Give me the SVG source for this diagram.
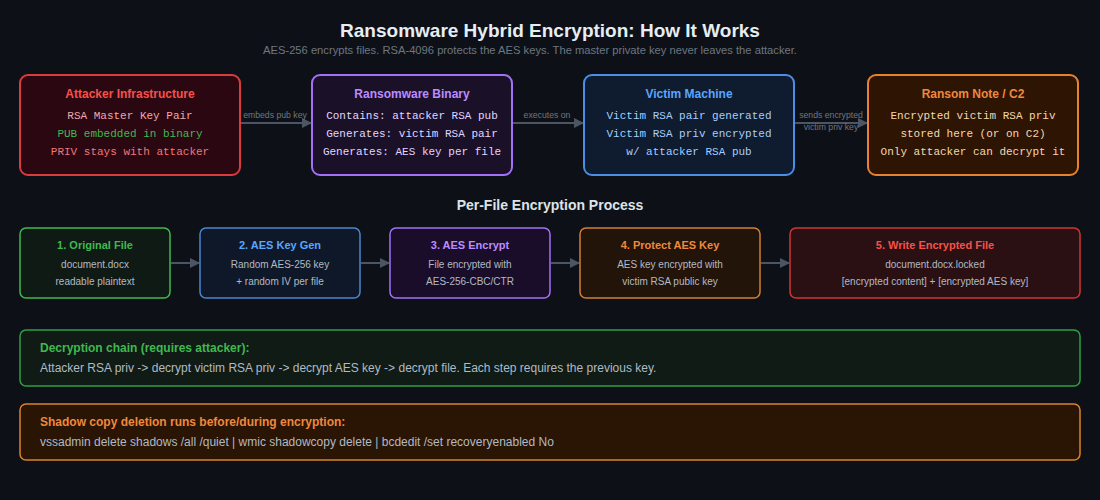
<svg xmlns="http://www.w3.org/2000/svg" width="1100" height="500" viewBox="0 0 1100 500">
<defs>
<marker id="ah" viewBox="0 0 10 10" refX="9" refY="5" markerWidth="10" markerHeight="10" markerUnits="userSpaceOnUse" orient="auto">
<path d="M0,0 L10,5 L0,10 z" fill="#4b5563"/>
</marker>
</defs>
<style>
text{font-family:"Liberation Sans",Arial,sans-serif;text-anchor:middle}
.mono{font-family:"Courier New","Liberation Mono",monospace;font-size:11px}
.t1{font-size:12px;font-weight:bold}
.t2{font-size:11px;font-weight:bold}
.b2{font-size:10px;fill:#b1bac4}
.lbl{font-size:8.7px;fill:#6e7681}
.conn{stroke:#4b5563;stroke-width:2;fill:none;marker-end:url(#ah)}
.left{text-anchor:start}
</style>
<rect width="1100" height="500" fill="#0d1117"/>
<text x="550" y="37" font-size="19" font-weight="bold" fill="#e6edf3">Ransomware Hybrid Encryption: How It Works</text>
<text x="530" y="54" font-size="11.2" fill="#6e7681">AES-256 encrypts files. RSA-4096 protects the AES keys. The master private key never leaves the attacker.</text>

<g id="connectors">
<line class="conn" x1="241" y1="123" x2="311" y2="123"/>
<text class="lbl" x="275" y="118">embeds pub key</text>
<line class="conn" x1="513" y1="123" x2="583" y2="123"/>
<text class="lbl" x="547" y="118">executes on</text>
<line class="conn" x1="795" y1="123" x2="867" y2="123"/>
<text class="lbl" x="831" y="118">sends encrypted</text>
<text class="lbl" x="831" y="130">victim priv key</text>
<line class="conn" x1="171" y1="263" x2="199" y2="263"/>
<line class="conn" x1="361" y1="263" x2="389" y2="263"/>
<line class="conn" x1="551" y1="263" x2="579" y2="263"/>
<line class="conn" x1="761" y1="263" x2="789" y2="263"/>
</g>

<g id="attacker">
<rect x="20" y="75" width="220" height="100" rx="8" fill="#2b0712" stroke="#da3b3b" stroke-width="2"/>
<text class="t1" x="130" y="98" fill="#f85149">Attacker Infrastructure</text>
<text class="mono" x="130" y="119" fill="#f0a8a8">RSA Master Key Pair</text>
<text class="mono" x="130" y="137" fill="#3fb950">PUB embedded in binary</text>
<text class="mono" x="130" y="155" fill="#f07878">PRIV stays with attacker</text>
</g>
<g id="binary">
<rect x="312" y="75" width="200" height="100" rx="8" fill="#1a1028" stroke="#a371f7" stroke-width="2"/>
<text class="t1" x="412" y="98" fill="#bc8cff">Ransomware Binary</text>
<text class="mono" x="412" y="119" fill="#e2d6ff">Contains: attacker RSA pub</text>
<text class="mono" x="412" y="137" fill="#e2d6ff">Generates: victim RSA pair</text>
<text class="mono" x="412" y="155" fill="#e2d6ff">Generates: AES key per file</text>
</g>
<g id="victim">
<rect x="584" y="75" width="210" height="100" rx="8" fill="#0f1b2e" stroke="#4a8ee6" stroke-width="2"/>
<text class="t1" x="689" y="98" fill="#58a6ff">Victim Machine</text>
<text class="mono" x="689" y="119" fill="#a8cdff">Victim RSA pair generated</text>
<text class="mono" x="689" y="137" fill="#a8cdff">Victim RSA priv encrypted</text>
<text class="mono" x="689" y="155" fill="#a8cdff">w/ attacker RSA pub</text>
</g>
<g id="ransomnote">
<rect x="868" y="75" width="210" height="100" rx="8" fill="#2d1403" stroke="#e8822f" stroke-width="2"/>
<text class="t1" x="973" y="98" fill="#f0883e">Ransom Note / C2</text>
<text class="mono" x="973" y="119" fill="#f5d7b0">Encrypted victim RSA priv</text>
<text class="mono" x="973" y="137" fill="#f5d7b0">stored here (or on C2)</text>
<text class="mono" x="973" y="155" fill="#f5d7b0">Only attacker can decrypt it</text>
</g>

<text x="550" y="210" font-size="14" font-weight="bold" fill="#dde3ea">Per-File Encryption Process</text>

<g id="step1">
<rect x="20" y="228" width="150" height="70" rx="6" fill="#0f1a14" stroke="#3fb950" stroke-width="1.5"/>
<text class="t2" x="95" y="249" fill="#3fb950">1. Original File</text>
<text class="b2" x="95" y="268">document.docx</text>
<text class="b2" x="95" y="285">readable plaintext</text>
</g>
<g id="step2">
<rect x="200" y="228" width="160" height="70" rx="6" fill="#0f1829" stroke="#4a86d0" stroke-width="1.5"/>
<text class="t2" x="280" y="249" fill="#58a6ff">2. AES Key Gen</text>
<text class="b2" x="280" y="268">Random AES-256 key</text>
<text class="b2" x="280" y="285">+ random IV per file</text>
</g>
<g id="step3">
<rect x="390" y="228" width="160" height="70" rx="6" fill="#1a0d2a" stroke="#a371f7" stroke-width="1.5"/>
<text class="t2" x="470" y="249" fill="#bc8cff">3. AES Encrypt</text>
<text class="b2" x="470" y="268">File encrypted with</text>
<text class="b2" x="470" y="285">AES-256-CBC/CTR</text>
</g>
<g id="step4">
<rect x="580" y="228" width="180" height="70" rx="6" fill="#221408" stroke="#d18030" stroke-width="1.5"/>
<text class="t2" x="670" y="249" fill="#f0883e">4. Protect AES Key</text>
<text class="b2" x="670" y="268">AES key encrypted with</text>
<text class="b2" x="670" y="285">victim RSA public key</text>
</g>
<g id="step5">
<rect x="790" y="228" width="290" height="70" rx="6" fill="#2a1013" stroke="#d03535" stroke-width="1.5"/>
<text class="t2" x="935" y="249" fill="#f85149">5. Write Encrypted File</text>
<text class="b2" x="935" y="268">document.docx.locked</text>
<text class="b2" x="935" y="285">[encrypted content] + [encrypted AES key]</text>
</g>

<g id="decryption">
<rect x="20" y="330" width="1060" height="56" rx="6" fill="#0f1b14" stroke="#2ea043" stroke-width="1.5"/>
<text class="left" x="40" y="352" font-size="12" font-weight="bold" fill="#3fb950">Decryption chain (requires attacker):</text>
<text class="left" x="40" y="372" font-size="12" fill="#b1bac4">Attacker RSA priv -&gt; decrypt victim RSA priv -&gt; decrypt AES key -&gt; decrypt file. Each step requires the previous key.</text>
</g>
<g id="shadowcopy">
<rect x="20" y="404" width="1060" height="56" rx="6" fill="#2a1403" stroke="#d9822b" stroke-width="1.5"/>
<text class="left" x="40" y="426" font-size="12" font-weight="bold" fill="#f0883e">Shadow copy deletion runs before/during encryption:</text>
<text class="left" x="40" y="446" font-size="12" fill="#b1bac4">vssadmin delete shadows /all /quiet | wmic shadowcopy delete | bcdedit /set recoveryenabled No</text>
</g>
</svg>
